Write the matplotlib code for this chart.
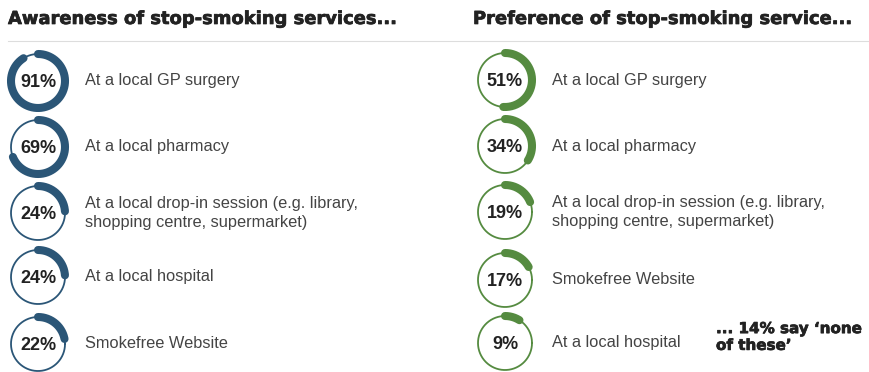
import numpy as np
import matplotlib
matplotlib.use("Agg")
import matplotlib.pyplot as plt
import matplotlib.patheffects as pe

# awareness of services (left) and preferred service (right), % of respondents
aware_labels = ["At a local GP surgery", "At a local pharmacy",
                "At a local drop-in session (e.g. library,\nshopping centre, supermarket)",
                "At a local hospital", "Smokefree Website"]
aware_pct = [91, 69, 24, 24, 22]

pref_labels = ["At a local GP surgery", "At a local pharmacy",
               "At a local drop-in session (e.g. library,\nshopping centre, supermarket)",
               "Smokefree Website", "At a local hospital"]
pref_pct = [51, 34, 19, 17, 9]

none_pct = 14

BLUE = "#2b5677"
GREEN = "#558b40"
TEXT = "#444444"
DARK = "#222222"

W, H = 870, 372
fig = plt.figure(figsize=(W / 100, H / 100), dpi=100)
ax = fig.add_axes([0, 0, 1, 1])
ax.set_xlim(0, W)
ax.set_ylim(H, 0)
ax.axis("off")

R = 27
heavy = [pe.withStroke(linewidth=0.5, foreground=DARK)]


def ring(cx, cy, pct, color):
    t = np.linspace(0, 2 * np.pi, 200)
    ax.plot(cx + R * np.cos(t), cy + R * np.sin(t), color=color, lw=1.3)
    # clockwise from 12 o'clock (y axis points down)
    a = np.linspace(-np.pi / 2, -np.pi / 2 + 2 * np.pi * pct / 100, 200)
    ax.plot(cx + R * np.cos(a), cy + R * np.sin(a), color=color, lw=5.8,
            solid_capstyle="round")
    ax.text(cx, cy + 1.5, f"{pct}%", ha="center", va="center", fontsize=13,
            fontweight="bold", color=DARK, family="Liberation Sans")


def panel(x_ring, x_text, rows_y, pcts, labels, color):
    for y, p, lab in zip(rows_y, pcts, labels):
        ring(x_ring, y, p, color)
        ax.text(x_text, y, lab, ha="left", va="center", fontsize=11.8,
                color=TEXT, family="Liberation Sans", linespacing=1.35)


ax.text(8, 19, "Awareness of stop-smoking services...", ha="left", va="center",
        fontsize=12.9, fontweight="heavy", color=DARK, family="DejaVu Sans",
        path_effects=heavy)
ax.text(473, 19, "Preference of stop-smoking service...", ha="left", va="center",
        fontsize=12.9, fontweight="heavy", color=DARK, family="DejaVu Sans",
        path_effects=heavy)
ax.plot([8, 869], [40.5, 40.5], color="#dddddd", lw=0.8)

panel(38, 85, [81, 147, 213, 277, 344], aware_pct, aware_labels, BLUE)
panel(505, 552, [80, 146, 212, 280, 343], pref_pct, pref_labels, GREEN)

ax.text(716, 337, f"... {none_pct}% say \u2018none\nof these\u2019", ha="left",
        va="center", fontsize=10.9, fontweight="heavy", color=DARK,
        family="DejaVu Sans", linespacing=1.15, path_effects=heavy)

fig.savefig("out.png", dpi=100)
